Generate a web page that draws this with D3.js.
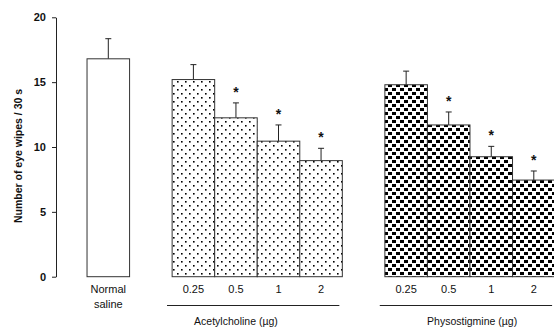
<!DOCTYPE html>
<html>
<head>
<meta charset="utf-8">
<script src="https://cdn.jsdelivr.net/npm/d3@7"></script>
<style>
  body { margin: 0; background: #fff; }
  svg { display: block; font-family: "Liberation Sans", Arial, sans-serif; }
</style>
</head>
<body>
<svg id="chart" width="554" height="329"></svg>
<script>
// eye wipes bar chart, saline vs ACh vs physostigmine
const width = 554;
const height = 329;

const labels = ["Normal|saline", "0.25", "0.5", "1", "2", "0.25", "0.5", "1", "2"];
const slots = [0, 2, 3, 4, 5, 7, 8, 9, 10];
const means = [16.8, 15.2, 12.25, 10.45, 8.95, 14.8, 11.7, 9.25, 7.45];
const errs = [1.55, 1.15, 1.15, 1.25, 0.95, 1.05, 1.0, 0.8, 0.7];
const fills = ["white", "dots", "dots", "dots", "dots", "checks", "checks", "checks", "checks"];
const starred = [false, false, true, true, true, false, true, true, true];

const groupNames = ["Acetylcholine (µg)", "Physostigmine (µg)"];
const groupFirst = [2, 7];
const groupLast = [5, 10];
const groupLabelAt = [3.0, 8.55];

const yTicks = [0, 5, 10, 15, 20];

const xScale = d3.scaleLinear().domain([0, 10]).range([108.3, 533.8]);
const yScale = d3.scaleLinear().domain([0, 20]).range([276.7, 17.3]);
const barW = xScale(1) - xScale(0);

const svg = d3.select("#chart");

// fill patterns
const defs = svg.append("defs");
const dots = defs.append("pattern")
    .attr("id", "dots")
    .attr("patternUnits", "userSpaceOnUse")
    .attr("width", 8).attr("height", 8);
dots.append("rect").attr("width", 8).attr("height", 8).attr("fill", "white");
dots.append("rect").attr("x", 1).attr("y", 1).attr("width", 1.6).attr("height", 1.6).attr("fill", "black");
dots.append("rect").attr("x", 5).attr("y", 5).attr("width", 1.6).attr("height", 1.6).attr("fill", "black");

const checks = defs.append("pattern")
    .attr("id", "checks")
    .attr("patternUnits", "userSpaceOnUse")
    .attr("width", 8).attr("height", 8);
checks.append("rect").attr("width", 8).attr("height", 8).attr("fill", "white");
checks.append("rect").attr("x", 0).attr("y", 0).attr("width", 4).attr("height", 3).attr("fill", "black");
checks.append("rect").attr("x", 4).attr("y", 4).attr("width", 4).attr("height", 3).attr("fill", "black");

// y axis
const yAxis = svg.append("g")
    .attr("transform", "translate(56,0)")
    .call(d3.axisLeft(yScale).tickValues(yTicks).tickSize(4).tickPadding(6).tickSizeOuter(0));
yAxis.select(".domain").attr("stroke", "#222");
yAxis.selectAll(".tick line").attr("stroke", "#222");
yAxis.selectAll("text")
    .style("font-size", "11px")
    .style("font-weight", "bold")
    .attr("fill", "#111");

svg.append("text")
    .attr("transform", `translate(22,156) rotate(-90)`)
    .attr("text-anchor", "middle")
    .style("font-size", "10.5px")
    .style("font-weight", "bold")
    .attr("fill", "#111")
    .text("Number of eye wipes / 30 s");

const data = means.map((m, i) => ({
    slot: slots[i], mean: m, err: errs[i], fill: fills[i], star: starred[i], label: labels[i]
}));

// error bars first so bars cover the bottom
const eb = svg.append("g").attr("stroke", "#222").attr("stroke-width", 1);
eb.selectAll(".stem").data(data).join("line")
    .attr("x1", d => xScale(d.slot)).attr("x2", d => xScale(d.slot))
    .attr("y1", d => yScale(d.mean)).attr("y2", d => yScale(d.mean + d.err));
eb.selectAll(".cap").data(data).join("line")
    .attr("x1", d => xScale(d.slot) - 3).attr("x2", d => xScale(d.slot) + 3)
    .attr("y1", d => yScale(d.mean + d.err)).attr("y2", d => yScale(d.mean + d.err));

svg.append("g").selectAll("rect").data(data).join("rect")
    .attr("x", d => xScale(d.slot) - barW / 2)
    .attr("y", d => yScale(d.mean))
    .attr("width", barW)
    .attr("height", d => yScale(0) - yScale(d.mean))
    .attr("fill", d => d.fill === "white" ? "white" : `url(#${d.fill})`)
    .attr("stroke", "#333")
    .attr("stroke-width", 1);

svg.append("g").selectAll("text").data(data.filter(d => d.star)).join("text")
    .attr("x", d => xScale(d.slot))
    .attr("y", d => yScale(d.mean + d.err) - 6)
    .attr("text-anchor", "middle")
    .style("font-size", "14px")
    .style("font-weight", "bold")
    .attr("fill", "#111")
    .text("*");

// category labels
const cat = svg.append("g").style("font-size", "11px").attr("fill", "#111");
data.forEach(d => {
    const parts = d.label.split("|");
    parts.forEach((p, j) => {
        cat.append("text")
            .attr("x", xScale(d.slot))
            .attr("y", 293 + j * 15)
            .attr("text-anchor", "middle")
            .text(p);
    });
});

// group lines and names
groupNames.forEach((g, i) => {
    svg.append("line")
        .attr("x1", xScale(groupFirst[i] - 0.62))
        .attr("x2", xScale(groupLast[i] + 0.43))
        .attr("y1", 305.5).attr("y2", 305.5)
        .attr("stroke", "#222");
    svg.append("text")
        .attr("x", xScale(groupLabelAt[i]))
        .attr("y", 325)
        .attr("text-anchor", "middle")
        .style("font-size", "10.5px")
        .attr("fill", "#111")
        .text(g);
});
</script>
</body>
</html>
